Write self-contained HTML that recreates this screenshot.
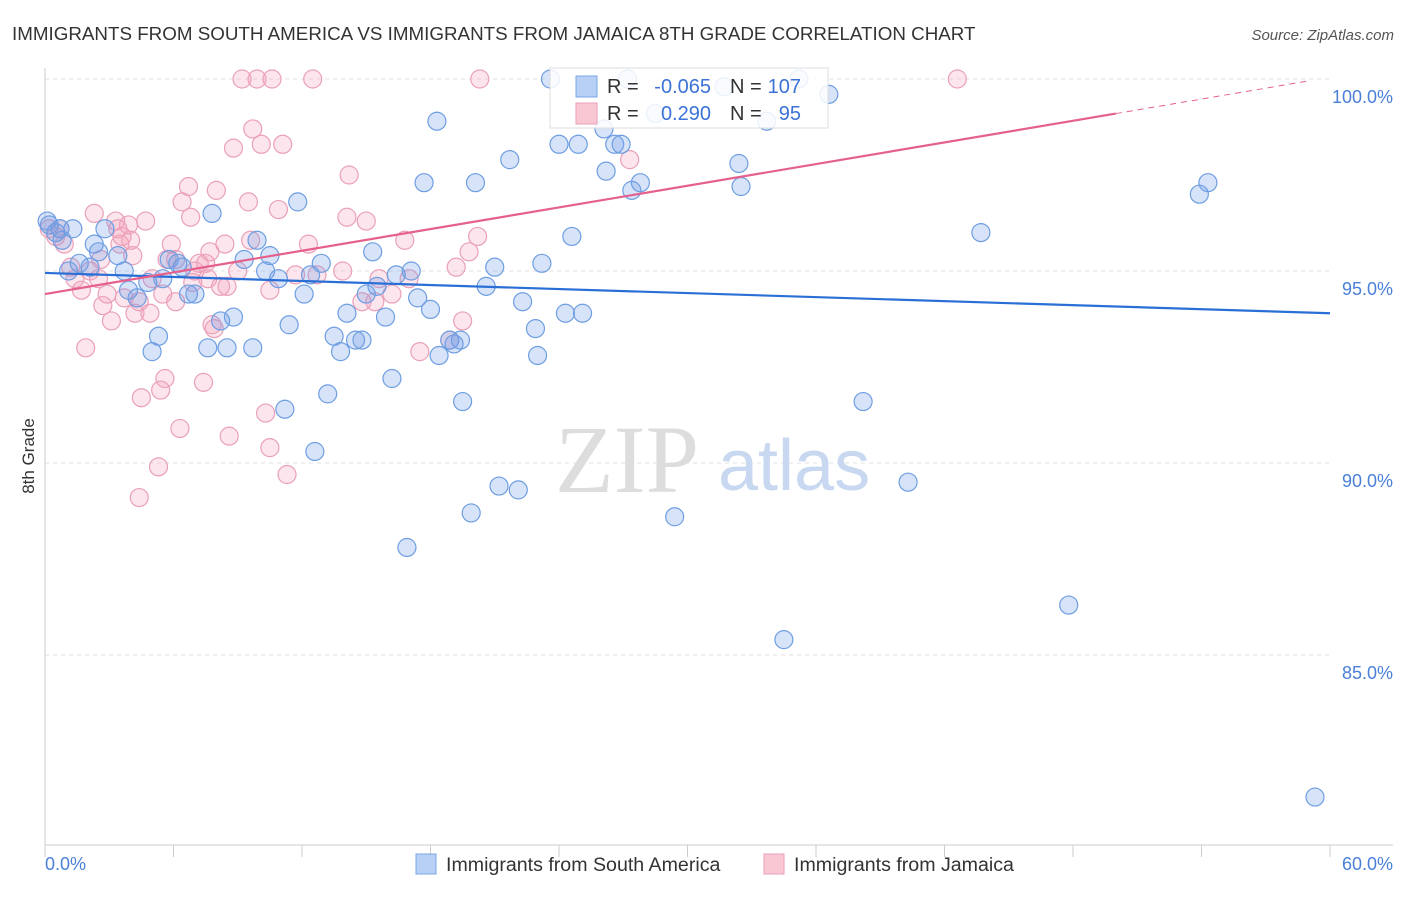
<!DOCTYPE html>
<html><head><meta charset="utf-8"><style>
body{margin:0;background:#fff;font-family:"Liberation Sans",sans-serif}
</style></head><body>
<svg id="c" width="1406" height="892" xmlns="http://www.w3.org/2000/svg">
<text x="12" y="40" font-size="18.8" fill="#333">IMMIGRANTS FROM SOUTH AMERICA VS IMMIGRANTS FROM JAMAICA 8TH GRADE CORRELATION CHART</text>
<text x="1394" y="40" font-size="15" fill="#555" font-style="italic" text-anchor="end">Source: ZipAtlas.com</text>
<text x="34" y="456" font-size="17" fill="#333" text-anchor="middle" transform="rotate(-90 34 456)">8th Grade</text>
<g id="grid"></g>
<text x="555" y="492" font-size="96" fill="#ddd" font-family="Liberation Serif,serif">ZIP</text>
<text x="718" y="490" font-size="72" fill="#c8d8f0">atlas</text>
<g id="pts"></g>
<g id="lines"></g>
<g>
<rect x="550" y="68" width="278" height="60" fill="#fff" fill-opacity="0.85" stroke="#ddd"/>
<rect x="576" y="76" width="21" height="21" fill="#b8d0f5" stroke="#7aa6e6"/>
<rect x="576" y="103" width="21" height="21" fill="#f9c6d4" stroke="#eba0b8"/>
<text x="607" y="93" font-size="20" fill="#333">R =</text>
<text x="711" y="93" font-size="20" fill="#3b72d6" text-anchor="end">-0.065</text>
<text x="730" y="93" font-size="20" fill="#333">N =</text>
<text x="801" y="93" font-size="20" fill="#3b72d6" text-anchor="end">107</text>
<text x="607" y="120" font-size="20" fill="#333">R =</text>
<text x="711" y="120" font-size="20" fill="#3b72d6" text-anchor="end">0.290</text>
<text x="730" y="120" font-size="20" fill="#333">N =</text>
<text x="801" y="120" font-size="20" fill="#3b72d6" text-anchor="end">95</text>
</g>
<g>
<rect x="416" y="854" width="20" height="20" fill="#b8d0f5" stroke="#7aa6e6"/>
<text x="446" y="871" font-size="19.6" fill="#333">Immigrants from South America</text>
<rect x="764" y="854" width="20" height="20" fill="#f9c6d4" stroke="#eba0b8"/>
<text x="794" y="871" font-size="19.6" fill="#333">Immigrants from Jamaica</text>
</g>
</svg>
<script>
const blueX=[0.2,0.5,0.8,1.3,1.1,1.6,2.3,2.5,2.8,3.4,3.7,3.9,4.3,4.8,5.0,5.3,5.5,5.8,6.2,6.4,6.7,7.0,7.6,7.8,8.2,8.5,8.8,9.3,9.7,9.9,10.3,10.5,10.9,11.2,11.4,11.8,12.1,12.4,12.6,12.9,13.2,13.5,13.8,14.1,14.5,14.8,15.0,15.3,15.5,15.9,16.2,16.4,16.9,17.1,17.4,17.7,18.0,18.3,18.4,18.9,19.1,19.5,19.9,20.1,20.6,21.0,21.2,21.7,22.1,22.3,22.9,23.0,23.2,23.6,24.0,24.3,24.6,24.9,25.1,26.1,26.2,26.6,26.9,27.2,27.4,27.8,28.5,29.4,32.4,32.5,33.7,34.5,35.2,36.6,38.2,40.3,43.7,47.8,53.9,54.3,59.3,0.1,0.7,2.1,31.7,19.4];
const blueY=[96.2,96.0,95.8,96.1,95.0,95.2,95.7,95.5,96.1,95.4,95.0,94.5,94.3,94.7,92.9,93.3,94.8,95.3,95.2,95.1,94.4,94.4,93.0,96.5,93.7,93.0,93.8,95.3,93.0,95.8,95.0,95.4,94.8,91.4,93.6,96.8,94.4,94.9,90.3,95.2,91.8,93.3,92.9,93.9,93.2,93.2,94.4,95.5,94.6,93.8,92.2,94.9,87.8,95.0,94.3,97.3,94.0,98.9,92.8,93.2,93.1,91.6,88.7,97.3,94.6,95.1,89.4,97.9,89.3,94.2,93.5,92.8,95.2,100.0,98.3,93.9,95.9,98.3,93.9,98.7,97.6,98.3,98.3,100.0,97.1,97.3,99.1,88.6,97.8,97.2,98.9,85.4,100.0,99.6,91.6,89.5,96.0,86.3,97.0,97.3,81.3,96.3,96.1,95.1,99.8,93.2];
const pinkX=[0.2,0.5,0.7,0.9,1.2,1.4,1.7,1.9,2.1,2.3,2.5,2.7,2.9,3.1,3.3,3.5,3.6,3.7,3.9,4.1,4.2,4.4,4.5,4.7,4.9,5.0,5.3,5.5,5.6,5.7,5.9,6.1,6.3,6.4,6.7,6.8,6.9,7.0,7.2,7.4,7.5,7.6,7.8,7.9,8.0,8.2,8.4,8.5,8.6,8.8,9.0,9.2,9.5,9.7,9.9,10.1,10.3,10.5,10.6,10.9,11.1,11.3,11.7,12.3,12.5,12.7,13.9,14.1,14.2,14.8,15.0,15.4,16.2,16.8,17.0,17.5,18.9,19.2,19.5,19.8,20.2,20.3,27.3,42.6,2.6,3.4,4.0,5.4,6.1,4.4,7.7,9.6,10.5,15.6];
const pinkY=[96.1,95.9,96.1,95.7,95.1,94.8,94.5,93.0,95.0,96.5,94.8,94.1,94.4,93.7,96.3,95.7,95.9,94.3,96.2,95.4,93.9,89.1,91.7,96.3,93.9,94.8,89.9,94.4,92.2,95.3,95.7,95.3,90.9,96.8,97.2,96.4,94.7,95.0,95.2,92.1,95.2,94.8,93.6,93.5,97.1,94.6,95.7,94.6,90.7,98.2,95.0,100.0,96.8,98.7,100.0,98.3,91.3,90.4,100.0,96.6,98.3,89.7,94.9,95.7,100.0,94.9,95.0,96.4,97.5,94.2,96.3,94.2,94.4,95.8,94.8,92.9,93.2,95.1,93.7,95.5,95.9,100.0,97.9,100.0,95.3,96.1,95.8,91.9,94.2,94.2,95.5,95.8,94.5,94.8];
const yTicks=[100,95,90,85];
const yTickLabels=["100.0%","95.0%","90.0%","85.0%"];
const xTicks=[0,6,12,18,24,30,36,42,48,54,60];
const blueTrend=[94.95,93.9];
const pinkTrend=[94.4,99.1,99.95];
const NS="http://www.w3.org/2000/svg";
const X=v=>45+v/60*1285, Y=v=>79+(100-v)*38.4;
function mk(t,a,p){const e=document.createElementNS(NS,t);for(const k in a)e.setAttribute(k,a[k]);p.appendChild(e);return e;}
const g=document.getElementById('grid');
yTicks.forEach((t,i)=>{
 const l=mk('line',{x1:45,x2:1330,y1:Y(t),y2:Y(t),stroke:'#e2e2e2','stroke-dasharray':'4,4'},g);
 
 
 const tx=mk('text',{x:1393,y:Y(t)+24,'font-size':18,fill:'#4a7fd8','text-anchor':'end'},g);tx.textContent=yTickLabels[i];
 
 
});
const ax=mk('line',{x1:45,x2:45,y1:68,y2:845,stroke:'#ccc'},g);


const bx=mk('line',{x1:45,x2:1393,y1:845,y2:845,stroke:'#ccc'},g);


xTicks.forEach(t=>{const l=mk('line',{x1:X(t),x2:X(t),y1:845,y2:857,stroke:'#ccc'},g);
 
 });
const x0=mk('text',{x:45,y:870,'font-size':18,fill:'#4a7fd8'},g);x0.textContent=xTicks[0].toFixed(1)+'%';


const x1=mk('text',{x:1393,y:870,'font-size':18,fill:'#4a7fd8','text-anchor':'end'},g);x1.textContent=xTicks[xTicks.length-1].toFixed(1)+'%';


const p=document.getElementById('pts');
pinkX.forEach((v,i)=>{const c=mk('circle',{cx:X(v),cy:Y(pinkY[i]),r:9,fill:'rgba(244,160,188,0.28)',stroke:'#eaa0b9','stroke-width':1.2},p);
 
 });
blueX.forEach((v,i)=>{const c=mk('circle',{cx:X(v),cy:Y(blueY[i]),r:9,fill:'rgba(110,155,230,0.28)',stroke:'#6e9ee2','stroke-width':1.2},p);
 
 });
const L=document.getElementById('lines');
const b=mk('line',{x1:X(0),y1:Y(blueTrend[0]),x2:X(60),y2:Y(blueTrend[1]),stroke:'#2a6fd6','stroke-width':2.2},L);


const pk=mk('line',{x1:X(0),y1:Y(pinkTrend[0]),x2:X(50),y2:Y(pinkTrend[1]),stroke:'#e5608c','stroke-width':2.2},L);


const pd=mk('line',{x1:X(50),y1:Y(pinkTrend[1]),x2:X(59),y2:Y(pinkTrend[2]),stroke:'#e5608c','stroke-width':1,'stroke-dasharray':'6,5'},L);


</script>
</body></html>
